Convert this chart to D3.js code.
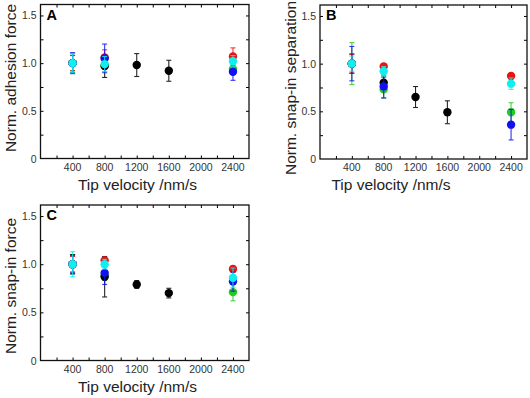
<!DOCTYPE html>
<html>
<head>
<meta charset="utf-8">
<script src="https://cdn.jsdelivr.net/npm/d3@7"></script>
<style>
  body { margin: 0; background: #fff; }
  svg { display: block; font-family: "Liberation Sans", Arial, sans-serif; }
</style>
</head>
<body>
<div id="chart"></div>
<script>
'use strict';
(function() {
  // Tip velocities (nm/s)
  var velocity = [400, 800, 1200, 1600, 2400];
  var xTicks = [400, 800, 1200, 1600, 2000, 2400];
  var yTicks = [0, 0.5, 1.0, 1.5];
  var yTickLabels = ['0', '0.5', '1.0', '1.5'];

  // Panel A - normalised adhesion force
  var adhBlack = [1.00, 0.97, 0.98, 0.92, null];
  var adhBlackErr = [0.10, 0.12, 0.12, 0.11, null];
  var adhRed = [1.00, 1.06, null, null, 1.07];
  var adhRedErr = [0.08, 0.08, null, null, 0.09];
  var adhGreen = [1.00, 0.97, null, null, 0.94];
  var adhGreenErr = [0.08, 0.06, null, null, 0.05];
  var adhBlue = [1.00, 1.05, null, null, 0.91];
  var adhBlueErr = [0.11, 0.15, null, null, 0.09];
  var adhCyan = [1.00, 0.99, null, null, 1.02];
  var adhCyanErr = [0.10, 0.08, null, null, 0.06];

  // Panel B - normalised snap-in separation
  var sepBlack = [1.00, 0.80, 0.65, 0.49, null];
  var sepBlackErr = [0.10, 0.06, 0.11, 0.12, null];
  var sepRed = [1.00, 0.97, null, null, 0.87];
  var sepRedErr = [0.10, 0.03, null, null, 0.03];
  var sepGreen = [1.00, 0.73, null, null, 0.49];
  var sepGreenErr = [0.22, 0.09, null, null, 0.10];
  var sepBlue = [1.00, 0.76, null, null, 0.36];
  var sepBlueErr = [0.18, 0.12, null, null, 0.16];
  var sepCyan = [1.00, 0.92, null, null, 0.79];
  var sepCyanErr = [0.08, 0.05, null, null, 0.06];

  // Panel C - normalised snap-in force
  var snapBlack = [1.00, 0.87, 0.79, 0.70, null];
  var snapBlackErr = [0.10, 0.21, 0.04, 0.05, null];
  var snapRed = [1.00, 1.04, null, null, 0.95];
  var snapRedErr = [0.08, 0.03, null, null, 0.03];
  var snapGreen = [1.00, 0.88, null, null, 0.71];
  var snapGreenErr = [0.10, 0.05, null, null, 0.09];
  var snapBlue = [1.00, 0.91, null, null, 0.82];
  var snapBlueErr = [0.09, 0.12, null, null, 0.10];
  var snapCyan = [1.00, 1.00, null, null, 0.86];
  var snapCyanErr = [0.13, 0.05, null, null, 0.10];

  // Colors (drawing order: first is at the back)
  var COLORS = {green: '#22cc22', black: '#000000', red: '#ee1111', blue: '#1111ee', cyan: '#11eeee'};

  var W = 530, H = 398;

  var panels = [
    {label: 'A', title: 'Norm. adhesion force', left: 40.5, right: 249, top: 4.5, bottom: 158.5, ty: 78, tx: 137.5,
      series: [['green', adhGreen, adhGreenErr], ['black', adhBlack, adhBlackErr], ['red', adhRed, adhRedErr],
               ['blue', adhBlue, adhBlueErr], ['cyan', adhCyan, adhCyanErr]]},
    {label: 'B', title: 'Norm. snap-in separation', left: 320, right: 527, top: 5, bottom: 159, ty: 88, tx: 391,
      series: [['green', sepGreen, sepGreenErr], ['black', sepBlack, sepBlackErr], ['red', sepRed, sepRedErr],
               ['blue', sepBlue, sepBlueErr], ['cyan', sepCyan, sepCyanErr]]},
    {label: 'C', title: 'Norm. snap-in force', left: 40.5, right: 249, top: 205, bottom: 360.5, ty: 286, tx: 137.5,
      series: [['green', snapGreen, snapGreenErr], ['black', snapBlack, snapBlackErr], ['red', snapRed, snapRedErr],
               ['blue', snapBlue, snapBlueErr], ['cyan', snapCyan, snapCyanErr]]}
  ];

  var svg = d3.select('#chart').append('svg')
    .attr('width', W)
    .attr('height', H);

  var drawPanel = function(p) {
    var x = d3.scaleLinear().domain([0, 2600]).range([p.left, p.right]);
    var y = d3.scaleLinear().domain([0, 1.615]).range([p.bottom, p.top]);
    var g = svg.append('g');

    var minorX = d3.range(200, 2600, 200);
    var minorY = d3.range(0.25, 1.6, 0.25);

    // Inward ticks on all four sides
    var axes = [
      d3.axisBottom(x).tickValues(minorX).tickSize(-3).tickFormat(''),
      d3.axisTop(x).tickValues(minorX).tickSize(-3).tickFormat(''),
      d3.axisLeft(y).tickValues(minorY).tickSize(-3).tickFormat(''),
      d3.axisRight(y).tickValues(minorY).tickSize(-3).tickFormat('')
    ];
    var pos = ['translate(0,' + p.bottom + ')', 'translate(0,' + p.top + ')',
               'translate(' + p.left + ',0)', 'translate(' + p.right + ',0)'];
    axes.forEach(function(a, i) {
      var ag = g.append('g').attr('transform', pos[i]).call(a);
      ag.select('.domain').remove();
      ag.selectAll('line').attr('stroke', '#000').attr('stroke-width', 1);
    });

    // Tick labels
    g.append('g').selectAll('text').data(xTicks).enter().append('text')
      .attr('x', function(d) { return x(d); })
      .attr('y', p.bottom + 12)
      .attr('text-anchor', 'middle')
      .attr('font-size', 10.5)
      .attr('fill', '#333')
      .text(function(d) { return d; });

    g.append('g').selectAll('text').data(yTicks).enter().append('text')
      .attr('x', p.left - 4)
      .attr('y', function(d) { return y(d) + 4; })
      .attr('text-anchor', 'end')
      .attr('font-size', 10.5)
      .attr('fill', '#333')
      .text(function(d, i) { return yTickLabels[i]; });

    // Frame
    g.append('rect')
      .attr('x', p.left).attr('y', p.top)
      .attr('width', p.right - p.left).attr('height', p.bottom - p.top)
      .attr('fill', 'none').attr('stroke', '#111').attr('stroke-width', 1.3);

    // Panel letter
    g.append('text')
      .attr('x', p.left + 6).attr('y', p.top + 15)
      .attr('font-size', 14.5).attr('font-weight', 'bold')
      .text(p.label);

    // Axis titles
    g.append('text')
      .attr('x', p.tx).attr('y', p.bottom + 31)
      .attr('text-anchor', 'middle').attr('font-size', 15.5).attr('fill', '#222')
      .text('Tip velocity /nm/s');

    g.append('text')
      .attr('transform', 'translate(' + (p.left - 24.5) + ',' + p.ty + ') rotate(-90)')
      .attr('text-anchor', 'middle').attr('font-size', 15.5).attr('fill', '#222')
      .text(p.title);

    // Series: error bars and markers
    p.series.forEach(function(s) {
      var color = COLORS[s[0]];
      var pts = velocity.map(function(v, i) {
        return {v: v, val: s[1][i], err: s[2][i]};
      }).filter(function(d) { return d.val !== null; });

      var sg = g.append('g');
      var eb = sg.selectAll('g.err').data(pts).enter().append('g')
        .attr('stroke', color).attr('stroke-width', 1.1).attr('opacity', 0.85);
      eb.append('line')
        .attr('x1', function(d) { return x(d.v); }).attr('x2', function(d) { return x(d.v); })
        .attr('y1', function(d) { return y(d.val - d.err); })
        .attr('y2', function(d) { return y(d.val + d.err); });
      [-1, 1].forEach(function(sign) {
        eb.append('line')
          .attr('x1', function(d) { return x(d.v) - 2.5; })
          .attr('x2', function(d) { return x(d.v) + 2.5; })
          .attr('y1', function(d) { return y(d.val + sign * d.err); })
          .attr('y2', function(d) { return y(d.val + sign * d.err); });
      });

      sg.selectAll('circle').data(pts).enter().append('circle')
        .attr('cx', function(d) { return x(d.v); })
        .attr('cy', function(d) { return y(d.val); })
        .attr('r', 4.2)
        .attr('fill', color);
    });
  };

  panels.forEach(drawPanel);
})();
</script>
</body>
</html>
